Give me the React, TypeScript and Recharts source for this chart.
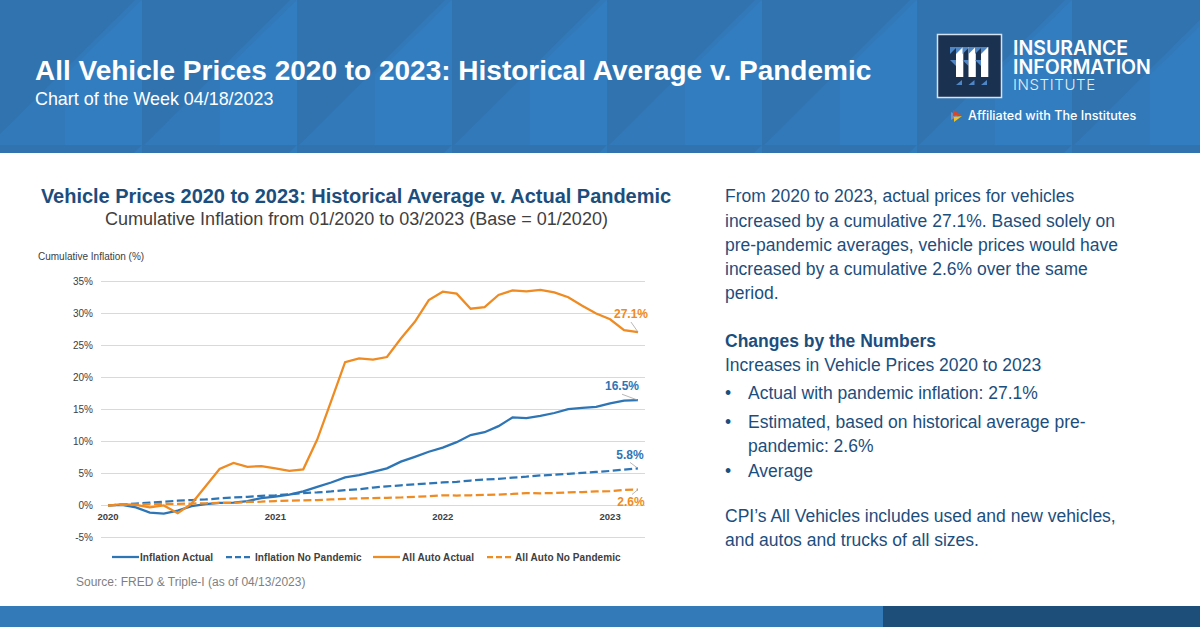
import { LineChart, Line, XAxis, YAxis, CartesianGrid, Legend } from "recharts";

const months = [
  "2020-01", "2020-02", "2020-03", "2020-04", "2020-05", "2020-06", "2020-07", "2020-08", "2020-09", "2020-10", "2020-11", "2020-12",
  "2021-01", "2021-02", "2021-03", "2021-04", "2021-05", "2021-06", "2021-07", "2021-08", "2021-09", "2021-10", "2021-11", "2021-12",
  "2022-01", "2022-02", "2022-03", "2022-04", "2022-05", "2022-06", "2022-07", "2022-08", "2022-09", "2022-10", "2022-11", "2022-12",
  "2023-01", "2023-02", "2023-03",
];
const inflationActual = [0, 0.1, -0.3, -1.1, -1.25, -0.8, -0.1, 0.2, 0.4, 0.45, 0.7, 1.15, 1.4, 1.7, 2.2, 2.9, 3.6, 4.4, 4.75, 5.25, 5.8, 6.85, 7.6, 8.4, 9.05, 9.9, 11, 11.45, 12.4, 13.75, 13.65, 14, 14.45, 15.05, 15.25, 15.4, 15.95, 16.4, 16.45];
const inflationNoPandemic = [0, 0.15, 0.3, 0.45, 0.6, 0.75, 0.85, 0.95, 1.1, 1.25, 1.35, 1.5, 1.6, 1.75, 1.95, 2.05, 2.2, 2.4, 2.55, 2.8, 3, 3.15, 3.3, 3.45, 3.6, 3.7, 3.9, 4.05, 4.15, 4.35, 4.5, 4.7, 4.8, 4.95, 5.1, 5.25, 5.4, 5.6, 5.8];
const autoActual = [0, 0.2, 0.1, -0.3, 0, -1.2, 0.3, 3, 5.7, 6.65, 6.05, 6.15, 5.8, 5.4, 5.65, 10.3, 16.3, 22.4, 23, 22.8, 23.2, 26.1, 28.7, 32.1, 33.4, 33.1, 30.75, 31, 32.9, 33.6, 33.45, 33.7, 33.3, 32.55, 31.2, 30, 29.1, 27.4, 27.1];
const autoNoPandemic = [0, 0.1, 0.15, 0.2, 0.25, 0.25, 0.3, 0.35, 0.4, 0.4, 0.55, 0.6, 0.7, 0.75, 0.8, 0.85, 0.95, 1.05, 1.1, 1.15, 1.2, 1.25, 1.35, 1.45, 1.6, 1.55, 1.6, 1.65, 1.7, 1.8, 1.95, 1.9, 1.95, 2.05, 2.1, 2.2, 2.25, 2.45, 2.5];
const yTicks = [-5, 0, 5, 10, 15, 20, 25, 30, 35];
const yearTicks = ["2020-01", "2021-01", "2022-01", "2023-01"];

const chartData = months.map((m, i) => ({
  month: m,
  inflationActual: inflationActual[i],
  inflationNoPandemic: inflationNoPandemic[i],
  autoActual: autoActual[i],
  autoNoPandemic: autoNoPandemic[i],
}));

const BLUE = "#2E75B6";
const ORANGE = "#EE8B22";
const NAVY = "#1C4E7D";
const FONT = "'Liberation Sans', Arial, sans-serif";
const lastIndex = months.length - 1;

// value label plus small leader line on the last point only
function EndLabel({ x, y, index, text, color, dx, dy, lx, ly }: any) {
  if (index !== lastIndex) return null;
  return (
    <g>
      <line x1={x + lx} y1={y + ly} x2={x} y2={y} stroke="#A6A6A6" strokeWidth={0.8} />
      <text x={x + dx} y={y + dy} textAnchor="middle" dominantBaseline="central" fill={color} fontSize={12} fontWeight={700} fontFamily={FONT}>
        {text}
      </text>
    </g>
  );
}

function YearTick({ x, y, payload }: any) {
  // years sit just under the 0% line, not at the bottom of the plot
  return (
    <text x={x} y={y - 29} textAnchor="middle" dominantBaseline="central" fill="#404040" fontSize={9.5} fontWeight={700} fontFamily={FONT}>
      {String(payload.value).slice(0, 4)}
    </text>
  );
}

function ChartLegend({ payload }: any) {
  const slots = [
    { x1: 82, x2: 109, tx: 110 },
    { x1: 196, x2: 221, tx: 225 },
    { x1: 343, x2: 370, tx: 372 },
    { x1: 457, x2: 481, tx: 485 },
  ];
  return (
    <svg width={640} height={20} style={{ display: "block" }}>
      {(payload || []).map((p: any, i: number) => (
        <g key={p.value}>
          <line x1={slots[i].x1} x2={slots[i].x2} y1={10} y2={10} stroke={p.color} strokeWidth={2.25} strokeDasharray={i % 2 ? "6 3" : undefined} />
          <text x={slots[i].tx} y={10} dominantBaseline="central" fill="#404040" fontSize={10} fontWeight={700} letterSpacing={0.08} fontFamily={FONT}>
            {p.value}
          </text>
        </g>
      ))}
    </svg>
  );
}

function HeaderPattern() {
  const tiles = [-168, -13, 142, 297, 452, 607, 762, 917, 1072];
  return (
    <svg width={1200} height={153} style={{ position: "absolute", left: 0, top: 0 }}>
      <rect width={1200} height={153} fill="#3279B9" />
      {tiles.map((x) => (
        <g key={x}>
          <polygon points={`${x},0 ${x + 148},0 ${x},147`} fill="#3073AF" />
          <polygon points={`${x + 155},0 ${x + 78},75 ${x + 78},145 ${x + 155},145`} fill="#327DBF" />
        </g>
      ))}
      <rect y={145} width={1200} height={8} fill="#3073AF" />
      {tiles.map((x) => (
        <polygon key={x} points={`${x + 155},145 ${x + 155},153 ${x + 147},153`} fill="#327BBB" />
      ))}
    </svg>
  );
}

function Logo() {
  const bars = [956, 968.5, 981];
  const wordStyle = { position: "absolute" as const, left: 1013, color: "#FFF", fontFamily: "Inter", fontWeight: 600, fontSize: 19.5, lineHeight: "17px", whiteSpace: "nowrap" as const };
  return (
    <div>
      <svg width={1200} height={153} style={{ position: "absolute", left: 0, top: 0 }}>
        <rect x={937.5} y={34.5} width={64} height={63} fill="#1B3150" stroke="#D5E3F0" strokeWidth={1.5} />
        {bars.map((x) => (
          <g key={x}>
            <polygon points={`${x - 6},47 ${x + 1},47 ${x - 6},54`} fill="#4F86C6" />
            <polygon points={`${x - 6},60 ${x},60 ${x},66`} fill="#4F86C6" />
            <rect x={x} y={47} width={7.3} height={30} fill="#FFFFFF" />
            <polygon points={`${x},47 ${x + 7},47 ${x},54`} fill="#4F86C6" />
            <polygon points={`${x + 6},80 ${x + 6},85 ${x},85`} fill="#4F86C6" />
          </g>
        ))}
        <polygon points="951,112 958,116 951,120" fill="#7F8FB5" />
        <polygon points="953,110 961,115 953,116" fill="#D9472B" />
        <polygon points="954,117 962,116 954,122" fill="#F4C21F" />
      </svg>
      <div style={{ ...wordStyle, top: 40 }}>INSURANCE</div>
      <div style={{ ...wordStyle, top: 59 }}>INFORMATION</div>
      <div style={{ position: "absolute", left: 1013, top: 76, color: "#E4EEF7", fontFamily: "Inter", fontWeight: 300, fontSize: 15, lineHeight: "17px", letterSpacing: 0.6 }}>INSTITUTE</div>
      <div style={{ position: "absolute", left: 968, top: 108, color: "#FFF", fontFamily: "Inter", fontWeight: 500, fontSize: 12.6, lineHeight: "16px", whiteSpace: "nowrap" }}>Affiliated with The Institutes</div>
    </div>
  );
}

const textLine = (left: number, top: number, size: number, color: string, bold?: boolean) => ({
  position: "absolute" as const,
  left,
  top,
  fontSize: size,
  color,
  fontWeight: bold ? 700 : 400,
  whiteSpace: "nowrap" as const,
  lineHeight: "24px",
  fontFamily: FONT,
});

const bullets = [
  { top: 381, lines: ["Actual with pandemic inflation: 27.1%"] },
  { top: 410, lines: ["Estimated, based on historical average pre-", "pandemic: 2.6%"] },
  { top: 459, lines: ["Average"] },
];

export default function App() {
  return (
    <div style={{ position: "absolute", left: 0, top: 0, width: 1200, height: 627, background: "#FFFFFF", overflow: "hidden", fontFamily: FONT }}>
      <HeaderPattern />
      <Logo />
      <div style={textLine(35, 59, 28, "#FFFFFF", true)}>All Vehicle Prices 2020 to 2023: Historical Average v. Pandemic</div>
      <div style={textLine(35, 87, 17.9, "#FFFFFF")}>Chart of the Week 04/18/2023</div>

      <div style={{ ...textLine(0, 184, 20, NAVY, true), width: 712, textAlign: "center", letterSpacing: -0.03 }}>Vehicle Prices 2020 to 2023: Historical Average v. Actual Pandemic</div>
      <div style={{ ...textLine(0, 207, 18, "#404040"), width: 713, textAlign: "center" }}>Cumulative Inflation from 01/2020 to 03/2023 (Base = 01/2020)</div>
      <div style={textLine(38, 245, 10, "#404040")}>Cumulative Inflation (%)</div>

      <div style={{ position: "absolute", left: 30, top: 240 }}>
        <LineChart width={640} height={340} data={chartData} margin={{ top: 41.5, right: 25, bottom: 21.5, left: 0 }}>
          <CartesianGrid horizontal vertical={false} stroke="#D9D9D9" strokeWidth={1} />
          <XAxis dataKey="month" ticks={yearTicks} interval={0} padding={{ left: 7, right: 7 }} height={1} axisLine={false} tickLine={false} tick={<YearTick />} />
          <YAxis width={71} domain={[-5, 35]} ticks={yTicks} tickFormatter={(v: number) => `${v}%`} axisLine={false} tickLine={false} tickSize={0} tickMargin={8} tick={{ fill: "#404040", fontSize: 10, fontFamily: FONT }} />
          <Legend height={20} itemSorter={null} content={<ChartLegend />} wrapperStyle={{ left: 0, bottom: 13, width: 640 }} />
          <Line type="linear" dataKey="inflationActual" name="Inflation Actual" stroke={BLUE} strokeWidth={2.25} dot={false} isAnimationActive={false}
            label={<EndLabel text="16.5%" color={BLUE} dx={-16} dy={-14} lx={-16} ly={-6} />} />
          <Line type="linear" dataKey="inflationNoPandemic" name="Inflation No Pandemic" stroke={BLUE} strokeWidth={2.25} strokeDasharray="8 3.5" dot={false} isAnimationActive={false}
            label={<EndLabel text="5.8%" color={BLUE} dx={-8} dy={-13} lx={-8} ly={-6} />} />
          <Line type="linear" dataKey="autoActual" name="All Auto Actual" stroke={ORANGE} strokeWidth={2.25} dot={false} isAnimationActive={false}
            label={<EndLabel text="27.1%" color={ORANGE} dx={-7} dy={-18} lx={-7} ly={-10} />} />
          <Line type="linear" dataKey="autoNoPandemic" name="All Auto No Pandemic" stroke={ORANGE} strokeWidth={2.25} strokeDasharray="8 3.5" dot={false} isAnimationActive={false}
            label={<EndLabel text="2.6%" color={ORANGE} dx={-7} dy={12} lx={-6} ly={5} />} />
        </LineChart>
      </div>
      <div style={textLine(76, 570, 12, "#7F7F7F")}>Source: FRED &amp; Triple-I (as of 04/13/2023)</div>

      <div style={textLine(725, 184, 17.5, NAVY)}>From 2020 to 2023, actual prices for vehicles</div>
      <div style={textLine(725, 208.5, 17.5, NAVY)}>increased by a cumulative 27.1%. Based solely on</div>
      <div style={textLine(725, 233, 17.5, NAVY)}>pre-pandemic averages, vehicle prices would have</div>
      <div style={textLine(725, 257, 17.5, NAVY)}>increased by a cumulative 2.6% over the same</div>
      <div style={textLine(725, 281, 17.5, NAVY)}>period.</div>
      <div style={textLine(725, 329, 17.5, NAVY, true)}>Changes by the Numbers</div>
      <div style={textLine(725, 353, 17.5, NAVY)}>Increases in Vehicle Prices 2020 to 2023</div>
      {bullets.map((b) => (
        <div key={b.lines[0]}>
          <div style={textLine(725, b.top, 17.5, NAVY)}>•</div>
          {b.lines.map((l, i) => (
            <div key={l} style={textLine(748, b.top + i * 24, 17.5, NAVY)}>{l}</div>
          ))}
        </div>
      ))}
      <div style={textLine(725, 504, 17.5, NAVY)}>CPI’s All Vehicles includes used and new vehicles,</div>
      <div style={textLine(725, 528, 17.5, NAVY)}>and autos and trucks of all sizes.</div>

      <div style={{ position: "absolute", left: 0, top: 606, width: 883, height: 21, background: "#337AB9" }} />
      <div style={{ position: "absolute", left: 883, top: 606, width: 317, height: 21, background: "#1D4E79" }} />
    </div>
  );
}
